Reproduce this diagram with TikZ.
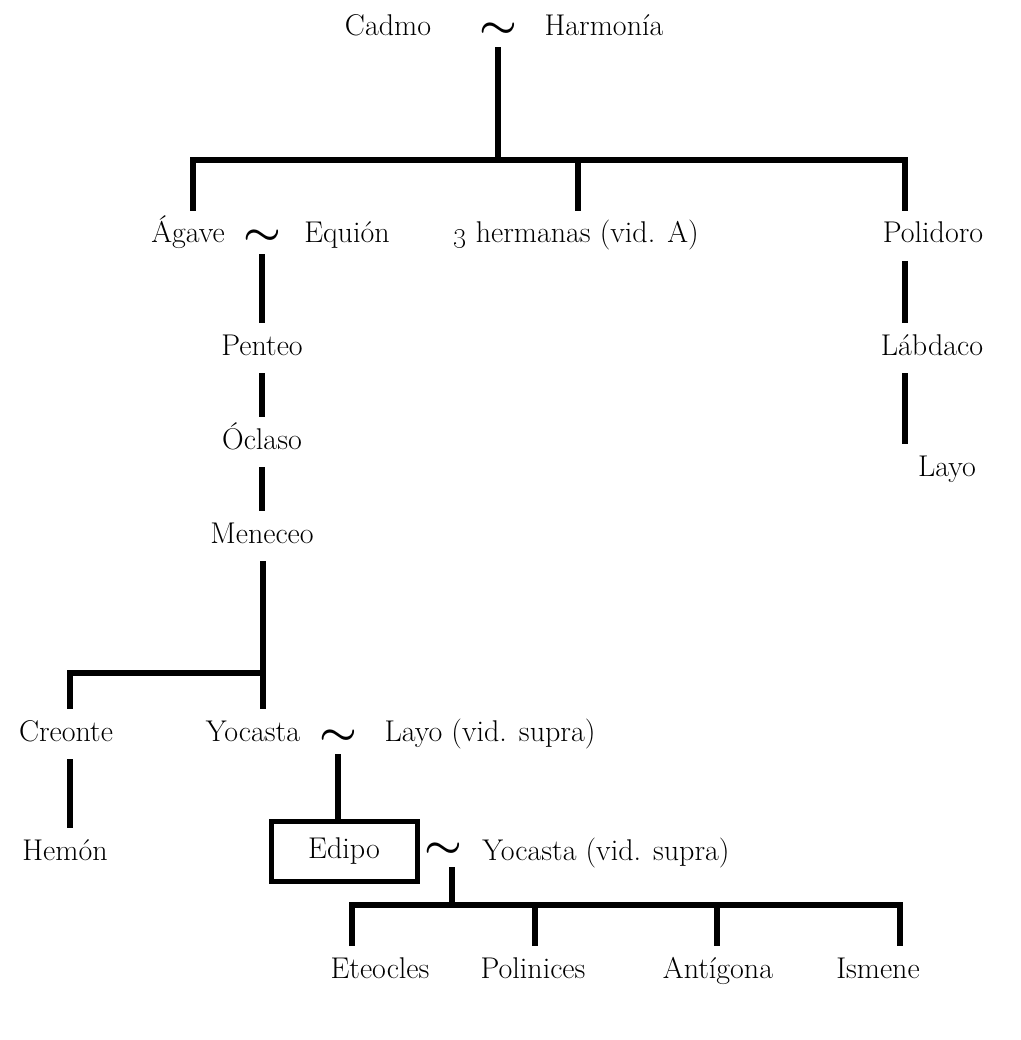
\documentclass[tikz,border=0pt]{standalone}
\begin{document}
\begin{tikzpicture}[x=1pt,y=-1pt,
  nm/.style={anchor=base,inner sep=0pt,outer ysep=11pt,text height=21pt,text depth=7pt,font=\fontsize{30}{34}\selectfont},
  tl/.style={inner sep=0pt,minimum height=34pt,font=\fontsize{24}{24}\selectfont},
  ln/.style={line width=5.5pt,line cap=butt,line join=miter},
  boxed/.style={draw,line width=5pt,minimum width=146pt,minimum height=60pt,inner sep=0pt,text height=21pt,text depth=7pt,font=\fontsize{30}{34}\selectfont}]
\newcommand{\mytilde}{\scalebox{1.7}[1.5]{\boldmath$\sim$}}
\useasboundingbox (0,0) rectangle (1020,1040);
% generation 0
\node[nm] (cadmo) at (388,36) {Cadmo};
\node[tl] (t0) at (498,30) {\mytilde};
\node[nm] (harm) at (604,36) {Harmonía};
% generation 1
\node[nm] (agave) at (188,243) {Ágave};
\node[tl] (t1) at (262,237) {\mytilde};
\node[nm] (equion) at (347,243) {Equión};
\node[nm] (herm) at (576,243) {\oldstylenums{3} hermanas (vid. A)};
\node[nm] (polidoro) at (933,243) {Polidoro};
% left line
\node[nm] (penteo) at (262,355) {Penteo};
\node[nm] (oclaso) at (262,449) {Óclaso};
\node[nm] (meneceo) at (262,543) {Meneceo};
% right line
\node[nm] (labdaco) at (932,355) {Lábdaco};
\node[nm] (layo) at (947,476) {Layo};
% Meneceo's children
\node[nm] (creonte) at (66,741) {Creonte};
\node[nm] (yocasta) at (253,741) {Yocasta};
\node[tl] (t2) at (338,737) {\mytilde};
\node[nm] (layo2) at (490,741) {Layo (vid. supra)};
\node[nm] (hemon) at (65,860) {Hemón};
\node[boxed] (edipo) at (344,851) {Edipo};
\node[tl] (t3) at (443,850) {\mytilde};
\node[nm] (yocasta2) at (606,860) {Yocasta (vid. supra)};
% Edipo's children
\node[nm] (eteo) at (380,978) {Eteocles};
\node[nm] (polin) at (533,978) {Polinices};
\node[nm] (antig) at (718,978) {Antígona};
\node[nm] (ismene) at (878,978) {Ismene};
% connectors
\coordinate (barL) at (193,160);
\coordinate (barM) at (578,160);
\coordinate (barR) at (905,160);
\draw[ln] (t0.south) -- (t0.south |- barM);
\draw[ln] (barL |- agave.north) -- (barL) -- (barR) -- (barR |- polidoro.north);
\draw[ln] (barM) -- (barM |- herm.north);
\draw[ln] (t1.south) -- (t1.south |- penteo.north);
\draw[ln] (penteo.south) -- (oclaso.north);
\draw[ln] (oclaso.south) -- (meneceo.north);
\draw[ln] (barR |- polidoro.south) -- (barR |- labdaco.north);
\draw[ln] (barR |- labdaco.south) -- (barR |- layo.north);
\coordinate (mb) at (263,673);
\coordinate (mbL) at (70,673);
\draw[ln] (mb |- meneceo.south) -- (mb |- yocasta.north);
\draw[ln] (mb) -- (mbL) -- (mbL |- creonte.north);
\draw[ln] (mbL |- creonte.south) -- (mbL |- hemon.north);
\draw[ln] (t2.south) -- (t2.south |- edipo.north);
\coordinate (cb) at (452,905);
\coordinate (cbL) at (352,905);
\coordinate (cb2) at (535,905);
\coordinate (cb3) at (717,905);
\coordinate (cbR) at (900,905);
\draw[ln] (cb |- t3.south) -- (cb);
\draw[ln] (cbL |- eteo.north) -- (cbL) -- (cbR) -- (cbR |- ismene.north);
\draw[ln] (cb2) -- (cb2 |- polin.north);
\draw[ln] (cb3) -- (cb3 |- antig.north);
\end{tikzpicture}
\end{document}
